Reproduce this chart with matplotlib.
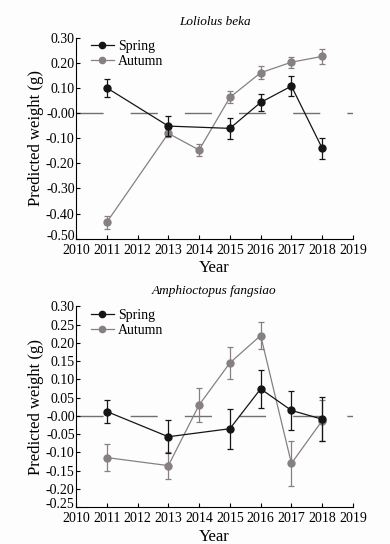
import numpy as np
import matplotlib.pyplot as plt
import matplotlib.transforms as mtransforms
from matplotlib.lines import Line2D

plt.rcParams['font.family'] = ['Liberation Serif', 'DejaVu Serif']

# Loliolus beka
lb_spring_years = [2011, 2013, 2015, 2016, 2017, 2018]
lb_spring = [0.100, -0.052, -0.061, 0.042, 0.107, -0.140]
lb_spring_err = [0.035, 0.040, 0.043, 0.034, 0.041, 0.042]
lb_autumn_years = [2011, 2013, 2014, 2015, 2016, 2017, 2018]
lb_autumn = [-0.434, -0.081, -0.147, 0.062, 0.160, 0.202, 0.225]
lb_autumn_err = [0.025, 0.016, 0.025, 0.024, 0.026, 0.022, 0.029]

# Amphioctopus fangsiao
af_spring_years = [2011, 2013, 2015, 2016, 2017, 2018]
af_spring = [0.012, -0.057, -0.035, 0.074, 0.015, -0.009]
af_spring_err = [0.032, 0.045, 0.055, 0.051, 0.054, 0.060]
af_autumn_years = [2011, 2013, 2014, 2015, 2016, 2017, 2018]
af_autumn = [-0.114, -0.136, 0.030, 0.145, 0.220, -0.130, -0.013]
af_autumn_err = [0.036, 0.036, 0.046, 0.044, 0.038, 0.061, 0.057]

year_ticks = list(range(2010, 2020))

spring_c = '#151515'
autumn_c = '#878081'

fig = plt.figure(figsize=(3.9, 5.44), dpi=100, facecolor='#fdfdfd')
ax1 = fig.add_axes([0.195, 0.561, 0.710, 0.370])
ax2 = fig.add_axes([0.195, 0.0675, 0.710, 0.3695])


def draw(ax, title, sy, s, se, ay, a, ae, yticks, ylim):
    ax.set_facecolor('none')
    ax.axhline(0, color='#707070', lw=1.0, dashes=(19.5, 19.5), zorder=1)
    ax.errorbar(ay, a, yerr=ae, color=autumn_c, marker='o', ms=5, lw=0.9,
                elinewidth=0.9, capsize=2.5, capthick=0.9, zorder=2)
    ax.errorbar(sy, s, yerr=se, color=spring_c, marker='o', ms=5, lw=0.9,
                elinewidth=0.9, capsize=2.5, capthick=0.9, zorder=3)
    ax.set_xlim(2010, 2019)
    ax.set_ylim(*ylim)
    ax.set_xticks(year_ticks)
    ax.set_xticklabels([str(y) for y in year_ticks])
    ax.set_yticks(yticks)
    ax.set_yticklabels(['%.2f' % v for v in yticks])
    ax.tick_params(direction='in', length=3, width=0.8, labelsize=10, pad=1)
    ax.tick_params(axis='x', pad=3.5)
    # lift the lowest y label a little so it clears the first year label
    low = ax.get_yticklabels()[0]
    low.set_transform(low.get_transform() +
                      mtransforms.ScaledTranslation(0, 3 / 72, fig.dpi_scale_trans))
    for side in ['top', 'right']:
        ax.spines[side].set_visible(False)
    for side in ['left', 'bottom']:
        ax.spines[side].set_linewidth(0.8)
    ax.set_xlabel('Year', fontsize=12, labelpad=2.5)
    ax.set_ylabel('Predicted weight (g)', fontsize=12, labelpad=1.5)
    ax.set_title(title, fontsize=9.5, style='italic', pad=9)
    handles = [Line2D([], [], color=spring_c, marker='o', ms=4.5, lw=0.9),
               Line2D([], [], color=autumn_c, marker='o', ms=4.5, lw=0.9)]
    ax.legend(handles, ['Spring', 'Autumn'], loc='upper left',
              bbox_to_anchor=(0.035, 1.015), frameon=False, fontsize=10,
              handlelength=1.6, handletextpad=0.3, labelspacing=0.15,
              borderaxespad=0)


draw(ax1, 'Loliolus beka', lb_spring_years, lb_spring, lb_spring_err,
     lb_autumn_years, lb_autumn, lb_autumn_err,
     np.round(np.arange(-0.5, 0.31, 0.1), 2), (-0.5, 0.3))
draw(ax2, 'Amphioctopus fangsiao', af_spring_years, af_spring, af_spring_err,
     af_autumn_years, af_autumn, af_autumn_err,
     np.round(np.arange(-0.25, 0.31, 0.05), 2), (-0.25, 0.3))

fig.savefig('out.png', dpi=100, facecolor=fig.get_facecolor())
